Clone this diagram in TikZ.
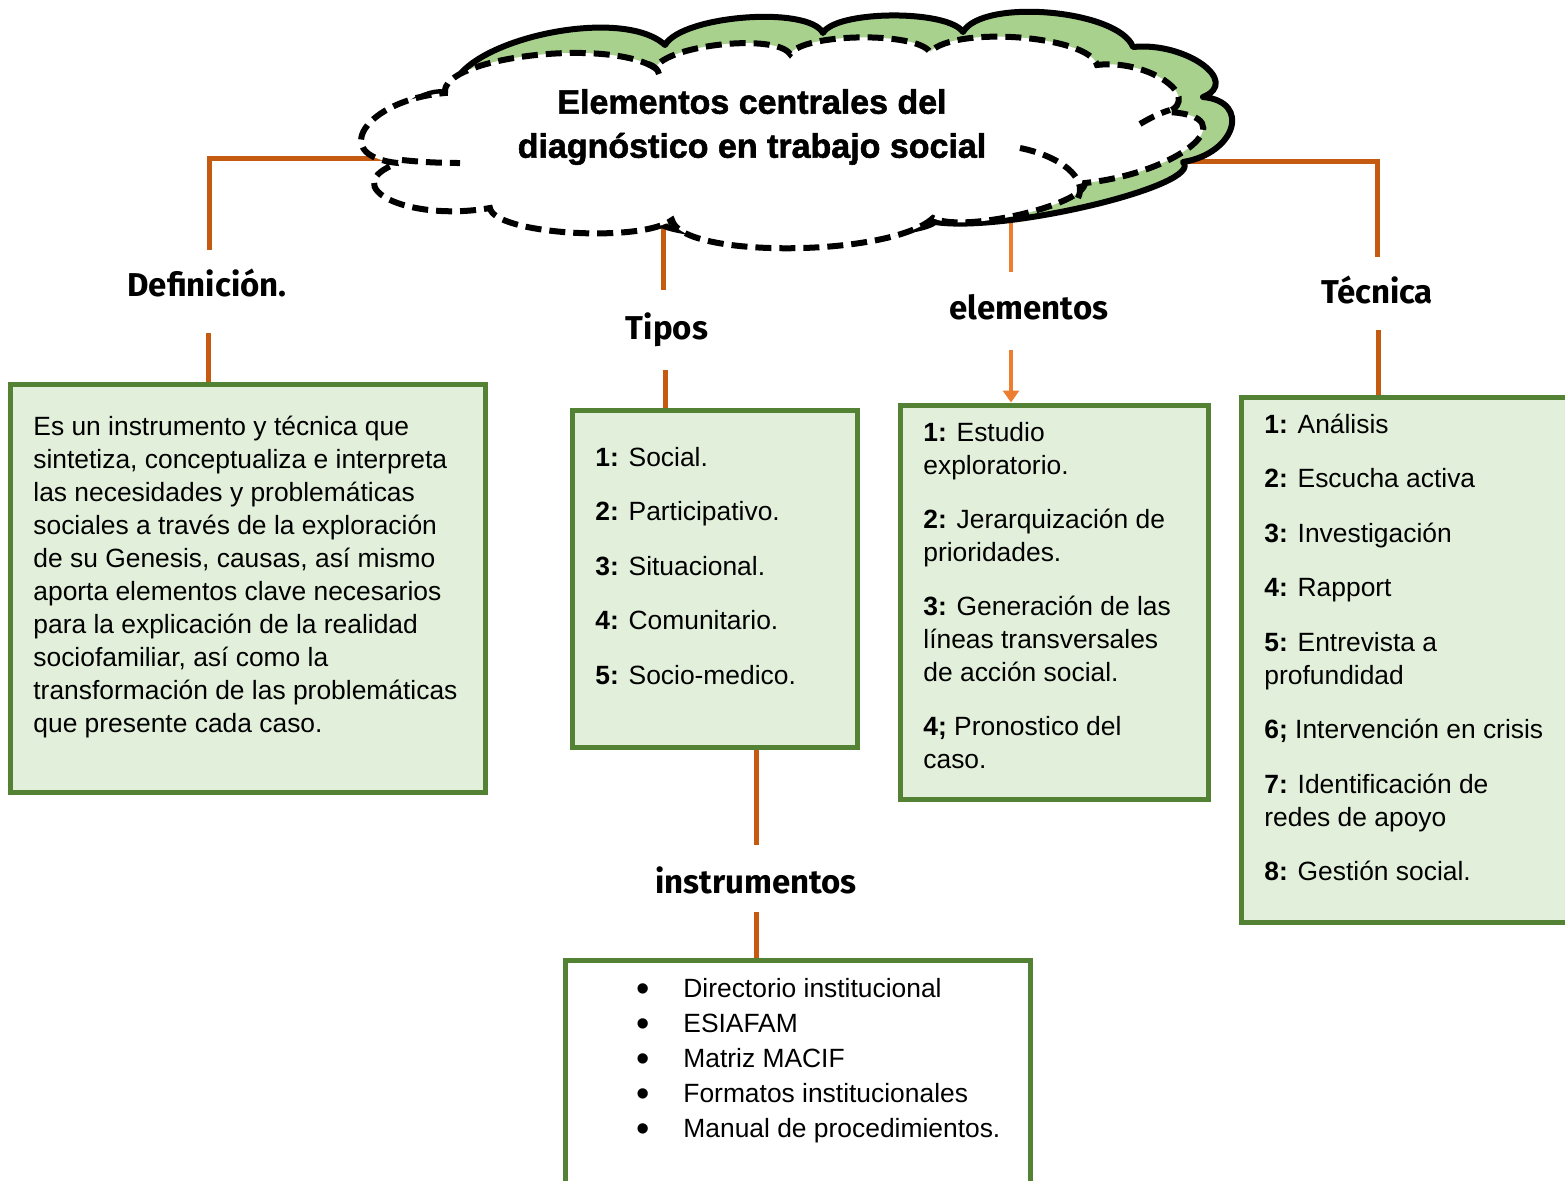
\documentclass[tikz,border=0pt]{standalone}
\usepackage{fontspec}
\setmainfont{Liberation Sans}
\newfontfamily\headfont{Fira Sans}
\newfontfamily\blackfont[FakeBold=1.6]{Liberation Sans Bold}
\usetikzlibrary{arrows.meta,calc}
\definecolor{orgdark}{HTML}{C55A11}
\definecolor{orglight}{HTML}{ED7D31}
\definecolor{boxgreen}{HTML}{548235}
\definecolor{boxfill}{HTML}{E2EFDA}
\definecolor{cloudgreen}{HTML}{A9D18E}
\newcommand{\fstrut}{\rule{0pt}{12.5pt}}
\newcommand{\cbump}[3]{.. controls ($0.25*(#1)+1.3*(#2)-0.55*(#3)$) and ($0.25*(#3)+1.3*(#2)-0.55*(#1)$) .. (#3)}
\newcommand{\ibul}{\makebox[23.5pt][l]{\raisebox{-1.8pt}{\fontsize{19}{19}\selectfont\textbullet}}}
\tikzset{
  conn/.style={draw=orgdark, line width=2.5pt},
  connlight/.style={draw=orglight, line width=1.6pt, -{Triangle[length=6pt,width=8pt]}},
  gbox/.style={draw=boxgreen, fill=boxfill, line width=2.5pt, rectangle, inner sep=0pt},
  head/.style={font=\headfont\bfseries\fontsize{16.5}{19}\selectfont, inner sep=0pt, anchor=base},
  bodytext/.style={align=left, anchor=north west, inner sep=0pt},
  cloudback/.style={draw=black, fill=cloudgreen, line width=3pt, line join=round},
  cloudfront/.style={draw=black, fill=white, line width=3pt, dash pattern=on 8pt off 4pt},
  cloudinner/.style={draw=black, line width=3pt, dash pattern=on 8pt off 4pt},
}
\begin{document}
\begin{tikzpicture}[x=0.5pt,y=-0.5pt]
\useasboundingbox (0,0) rectangle (1565,1180);
\clip (0,0) rectangle (1565,1180);
\fill[white] (0,0) rectangle (1565,1180);

% boxes
\node[gbox, minimum width=237.5pt, minimum height=204pt] (defbox) at (247.5,588) {};
\node[gbox, minimum width=142.5pt, minimum height=168.5pt] (tiposbox) at (714.5,578.5) {};
\node[gbox, minimum width=154pt, minimum height=197pt] (elembox) at (1054,602) {};
\node[gbox, minimum width=179.5pt, minimum height=262.5pt] (tecbox) at (1420.5,659.5) {};
\node[gbox, fill=white, minimum width=232.5pt, minimum height=130pt] (instbox) at (797.5,1090) {};

% connector way points
\coordinate (defJoin) at (410,158);
\coordinate (defTop) at (209,250);
\coordinate (defBot) at (208,333);
\coordinate (tipJoin) at (663,200);
\coordinate (tipTop) at (663,290);
\coordinate (tipBot) at (665,370);
\coordinate (eleJoin) at (1011,200);
\coordinate (eleTop) at (1011,272);
\coordinate (eleBot) at (1011,350);
\coordinate (tecJoin) at (1170,161);
\coordinate (tecTop) at (1377,257);
\coordinate (tecBot) at (1378,330);
\coordinate (insTop) at (756,845);
\coordinate (insBot) at (756,912);

% connectors
\draw[conn] (defTop) |- (defJoin);
\draw[conn] (defBot) -- (defBot |- defbox.north);
\draw[conn] (tipJoin) -- (tipTop);
\draw[conn] (tipBot) -- (tipBot |- tiposbox.north);
\draw[draw=orglight, line width=1.6pt] (eleJoin) -- (eleTop);
\draw[connlight] (eleBot) -- (eleBot |- elembox.north);
\draw[conn] (tecTop) |- (tecJoin);
\draw[conn] (tecBot) -- (tecBot |- tecbox.north);
\draw[conn] (insTop |- tiposbox.south) -- (insTop);
\draw[conn] (insBot) -- (insBot |- instbox.north);

% back (green) cloud
\draw[cloudback] (400,128)
  \cbump{400,128}{415,100}{452,95}
  \cbump{452,95}{540,34}{665,45}
  \cbump{665,45}{745,17}{823,33}
  \cbump{823,33}{892,15}{963,32}
  \cbump{963,32}{1050,12}{1133,47}
  \cbump{1133,47}{1203,64}{1203,97}
  \cbump{1203,97}{1232,128}{1183,162}
  \cbump{1183,162}{1095,205}{935,222}
  \cbump{935,222}{800,238}{660,224}
  \cbump{660,224}{550,218}{480,196}
  \cbump{480,196}{420,178}{400,128} -- cycle;

% front (dashed, white) cloud
\draw[cloudfront] (398,163)
  \cbump{398,163}{364,128}{445,93}
  \cbump{445,93}{530,55}{655,68}
  \cbump{655,68}{722,44}{790,54}
  \cbump{790,54}{860,37}{930,52}
  \cbump{930,52}{1020,37}{1097,65}
  \cbump{1097,65}{1165,80}{1168,112}
  \cbump{1168,112}{1194,145}{1085,183}
  \cbump{1085,183}{1020,215}{933,218}
  \cbump{933,218}{790,249}{672,220}
  \cbump{672,220}{570,233}{490,208}
  \cbump{490,208}{388,200}{398,163} -- cycle;
% inner arcs of the front cloud
\draw[cloudinner] (402,160) .. controls (420,162) and (440,163) .. (460,163);
\draw[cloudinner] (1020,148) .. controls (1060,156) and (1088,178) .. (1078,198);
\draw[cloudinner] (1140,124) .. controls (1150,118) and (1160,113) .. (1170,110);
\draw[cloudinner] (648,64) .. controls (655,66) and (658,70) .. (659,74);

\node[font=\blackfont\fontsize{17}{22}\selectfont, align=center, inner sep=0pt] (title) at (752,127) {Elementos centrales del\\diagnóstico en trabajo social};

% labels
\node[head] (deflabel) at (207,296) {Definición.};
\node[head] (tiposlabel) at (667,339) {Tipos};
\node[head] (elemlabel) at (1029,319) {elementos};
\node[head] (teclabel) at (1377,303) {Técnica};
\node[head] (instlabel) at (756,893) {instrumentos};

% box texts
\node[bodytext, font=\fontsize{13.2}{16.5}\selectfont] (deftext) at (33,410) {\fstrut Es un instrumento y técnica que\\
sintetiza, conceptualiza e interpreta\\
las necesidades y problemáticas\\
sociales a través de la exploración\\
de su Genesis, causas, así mismo\\
aporta elementos clave necesarios\\
para la explicación de la realidad\\
sociofamiliar, así como la\\
transformación de las problemáticas\\
que presente cada caso.};

\node[bodytext, font=\fontsize{13.2}{27.25}\selectfont] (tipostext) at (595,441) {\fstrut\textbf{1:} Social.\\
\textbf{2:} Participativo.\\
\textbf{3:} Situacional.\\
\textbf{4:} Comunitario.\\
\textbf{5:} Socio-medico.};

\node[bodytext, font=\fontsize{13.2}{16.5}\selectfont] (elemtext) at (923,416) {\fstrut\textbf{1:} Estudio\\
exploratorio.\\[10.5pt]
\textbf{2:} Jerarquización de\\
prioridades.\\[10.5pt]
\textbf{3:} Generación de las\\
líneas transversales\\
de acción social.\\[10.5pt]
\textbf{4;} Pronostico del\\
caso.};

\node[bodytext, font=\fontsize{13.2}{16.5}\selectfont] (tectext) at (1264,408) {\fstrut\textbf{1:} Análisis\\[10.75pt]
\textbf{2:} Escucha activa\\[10.75pt]
\textbf{3:} Investigación\\[10.75pt]
\textbf{4:} Rapport\\[10.75pt]
\textbf{5:} Entrevista a\\
profundidad\\[10.75pt]
\textbf{6;} Intervención en crisis\\[10.75pt]
\textbf{7:} Identificación de\\
redes de apoyo\\[10.75pt]
\textbf{8:} Gestión social.};

\node[bodytext, font=\fontsize{13.2}{17.5}\selectfont] (insttext) at (636,972) {\fstrut\ibul Directorio institucional\\
\ibul ESIAFAM\\
\ibul Matriz MACIF\\
\ibul Formatos institucionales\\
\ibul Manual de procedimientos.};
\end{tikzpicture}
\end{document}
